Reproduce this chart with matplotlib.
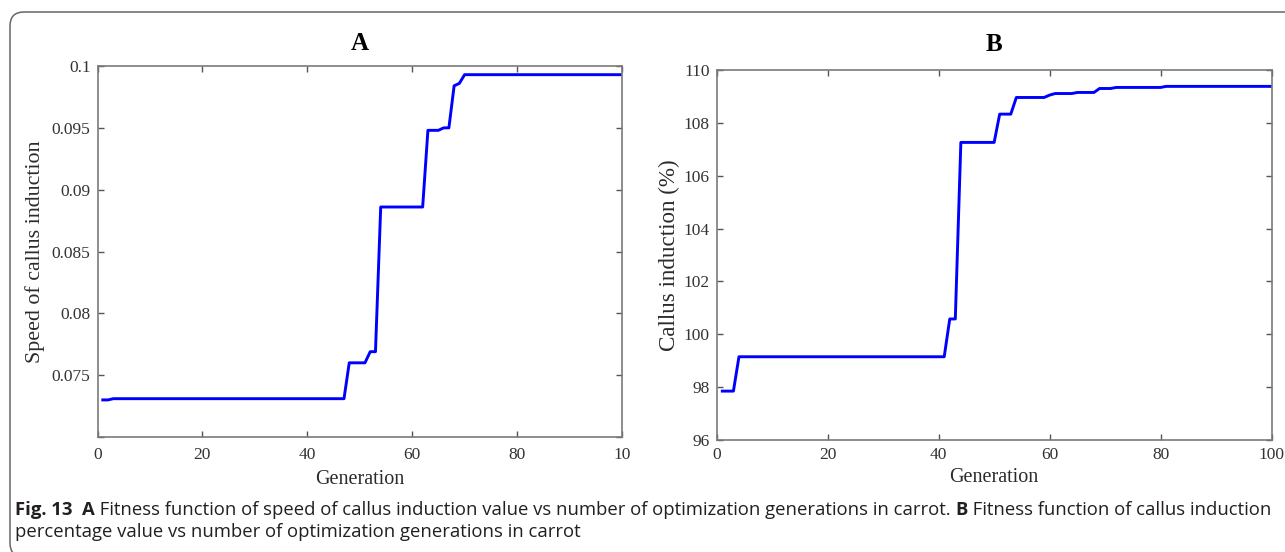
import matplotlib
matplotlib.use("Agg")
import matplotlib.pyplot as plt
from matplotlib.patches import FancyBboxPatch

# panel A: best fitness (speed of callus induction) per generation
gen_a = [1, 2, 3, 47, 48, 51, 52, 53, 54, 62, 63, 65, 66, 67, 68, 69, 70, 100]
fit_a = [0.0730, 0.0730, 0.0731, 0.0731, 0.0760, 0.0760, 0.0769, 0.0769, 0.0886,
         0.0886, 0.0948, 0.0948, 0.0950, 0.0950, 0.0984, 0.0986, 0.0993, 0.0993]

# panel B: best fitness (callus induction %) per generation
gen_b = [1, 3, 4, 41, 42, 43, 44, 50, 51, 53, 54, 59, 60, 61, 64, 65, 68, 69, 71, 72, 80, 81, 100]
fit_b = [97.85, 97.85, 99.15, 99.15, 100.58, 100.58, 107.26, 107.26, 108.33, 108.33,
         108.96, 108.96, 109.05, 109.11, 109.11, 109.15, 109.15, 109.30, 109.30,
         109.34, 109.34, 109.38, 109.38]

xticks = [0, 20, 40, 60, 80, 100]
xlabels_a = ["0", "20", "40", "60", "80", "10"]
xlabels_b = ["0", "20", "40", "60", "80", "100"]
yticks_a = [0.07, 0.075, 0.08, 0.085, 0.09, 0.095, 0.1]
ylabels_a = ["", "0.075", "0.08", "0.085", "0.09", "0.095", "0.1"]
yticks_b = [96, 98, 100, 102, 104, 106, 108, 110]

SERIF = "Liberation Serif"
SANS = "Open Sans"
LINE = "#0000ff"
FRAME = "#7a7a7a"
TXT = "#2b2b2b"

fig = plt.figure(figsize=(12.85, 5.52), dpi=100)


def style(ax):
    for s in ax.spines.values():
        s.set_color(FRAME)
        s.set_linewidth(1.2)
    ax.tick_params(direction="in", length=4, width=1, color="#555555",
                   top=True, right=True, labelsize=12.5, pad=5)
    for lab in ax.get_xticklabels() + ax.get_yticklabels():
        lab.set_fontfamily(SERIF)
        lab.set_color("#333333")


ax1 = fig.add_axes([0.0759, 0.2083, 0.4081, 0.6721])
ax1.plot(gen_a, fit_a, color=LINE, lw=2.1)
ax1.set_xlim(0, 100)
ax1.set_ylim(0.07, 0.1)
ax1.set_xticks(xticks, xlabels_a)
ax1.set_yticks(yticks_a, ylabels_a)
style(ax1)
ax1.tick_params(axis="x", pad=7)
ax1.set_xlabel("Generation", family=SERIF, fontsize=14.5, color=TXT, labelpad=5)
ax1.set_ylabel("Speed of callus induction", family=SERIF, fontsize=15.8, color=TXT, labelpad=5)
ax1.set_title("A", family=SERIF, fontsize=18, fontweight="bold", pad=11.5)

ax2 = fig.add_axes([0.5578, 0.2029, 0.4317, 0.6703])
ax2.plot(gen_b, fit_b, color=LINE, lw=2.1)
ax2.set_xlim(0, 100)
ax2.set_ylim(96, 110)
ax2.set_xticks(xticks, xlabels_b)
ax2.set_yticks(yticks_b)
style(ax2)
ax2.tick_params(axis="x", pad=5)
ax2.set_xlabel("Generation", family=SERIF, fontsize=14.5, color=TXT, labelpad=4)
ax2.set_ylabel("Callus induction (%)", family=SERIF, fontsize=16.6, color=TXT, labelpad=3)
ax2.set_title("B", family=SERIF, fontsize=18, fontweight="bold", pad=13.5)

# rounded frame, clipped on the right and bottom like the page crop
frame = FancyBboxPatch((0.10, -0.05), 14.0, 5.45, boxstyle="round,pad=0,rounding_size=0.14",
                       transform=fig.dpi_scale_trans, fill=False, ec="#666666", lw=1.1)
fig.add_artist(frame)

# caption, built piece by piece so the bold parts sit inline
line1 = [("Fig. 13", "bold"), ("  ", "normal"), ("A", "bold"),
         (" Fitness function of speed of callus induction value vs number of optimization generations in carrot. ", "normal"),
         ("B", "bold"), (" Fitness function of callus induction", "normal")]
line2 = [("percentage value vs number of optimization generations in carrot", "normal")]

renderer = fig.canvas.get_renderer()
for parts, ypix in ((line1, 510), (line2, 532)):
    xpix = 15
    for txt, w in parts:
        t = fig.text(xpix / 1285, 1 - ypix / 552, txt, family=SANS, fontsize=13.3,
                     fontweight=w, color="#231f20", va="center", ha="left")
        bb = t.get_window_extent(renderer)
        xpix += bb.width

fig.savefig("out.png", dpi=100)
